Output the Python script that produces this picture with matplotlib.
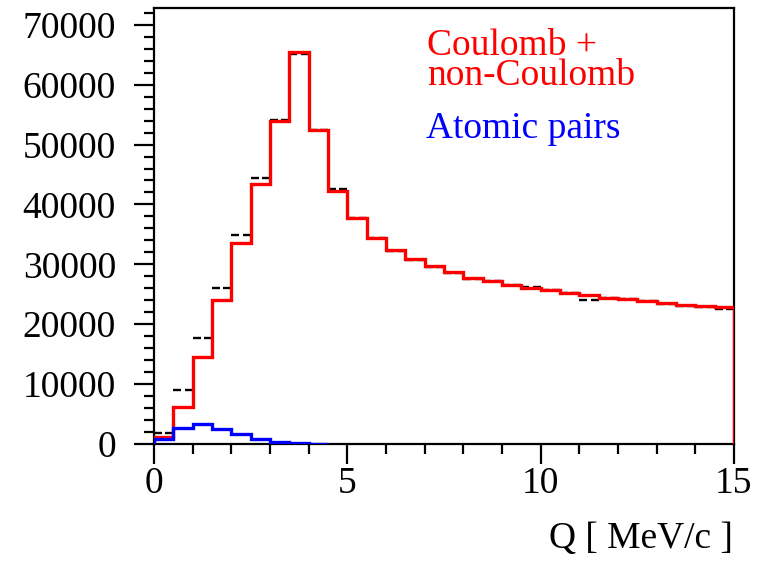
import numpy as np
import matplotlib
matplotlib.use('Agg')
import matplotlib.pyplot as plt
from matplotlib.ticker import MultipleLocator

# Q bins, 0.5 MeV/c wide
edges = np.linspace(0, 15, 31)

# measured counts per bin
data = [1900, 9020, 17760, 26110, 34910, 44490, 54130, 65200, 52460, 42550,
        37760, 34470, 32300, 30690, 29500, 28620, 27570, 27180, 26620, 26180,
        25670, 25170, 24060, 24440, 24250, 23940, 23390, 23050, 22830, 22610]

# fitted sum: Coulomb + non-Coulomb
fit = [1220, 6230, 14480, 24060, 33520, 43380, 54010, 65400, 52460, 42250,
       37700, 34470, 32410, 30900, 29690, 28730, 27680, 27230, 26620, 26010,
       25670, 25170, 24890, 24440, 24280, 23940, 23610, 23220, 23050, 22830]

# atomic pairs, only the first 9 bins (up to 4.5 MeV/c)
atomic = [780, 2620, 3340, 2510, 1620, 840, 390, 220, 50]

plt.rcParams['font.family'] = ['Liberation Serif', 'DejaVu Serif']

fig = plt.figure(figsize=(7.57, 5.62), dpi=100)
ax = fig.add_axes([154/757, 1-444/562, (734-154)/757, (444-8)/562])

# data points as horizontal error bars with a small gap in the middle
centers = 0.5*(edges[:-1]+edges[1:])
gap = 0.04
ax.hlines(data, edges[:-1], centers-gap, colors='black', lw=1.7, zorder=2)
ax.hlines(data, centers+gap, edges[1:], colors='black', lw=1.7, zorder=2)

ax.stairs(fit, edges, baseline=0, color='red', lw=2.4, zorder=3)
ax.stairs(atomic, edges[:len(atomic)+1], baseline=0, color='blue', lw=2.4, zorder=4)

ax.set_xlim(0, 15)
ax.set_ylim(0, 72800)
ax.xaxis.set_major_locator(MultipleLocator(5))
ax.xaxis.set_minor_locator(MultipleLocator(1))
ax.yaxis.set_major_locator(MultipleLocator(10000))
ax.yaxis.set_minor_locator(MultipleLocator(2000))

for s in ax.spines.values():
    s.set_linewidth(1.6)
ax.tick_params(which='major', direction='out', length=14.4, width=1.6)
ax.tick_params(which='minor', direction='out', length=7.2, width=1.6)
ax.tick_params(axis='y', which='major', labelsize=27, pad=13)
ax.tick_params(axis='x', which='major', labelsize=27, pad=2)

fig.text(733/757, 1-548/562, 'Q [ MeV/c ]', fontsize=27, ha='right', va='baseline')

# legend texts, two-line red label kept in one text block
fig.text(427/757, 1-85/562, 'Coulomb +\nnon-Coulomb', color='red', fontsize=27,
         va='baseline', linespacing=0.82)
fig.text(426/757, 1-138/562, 'Atomic pairs', color='blue', fontsize=27, va='baseline')

plt.savefig('out.png', dpi=100)
plt.close()
